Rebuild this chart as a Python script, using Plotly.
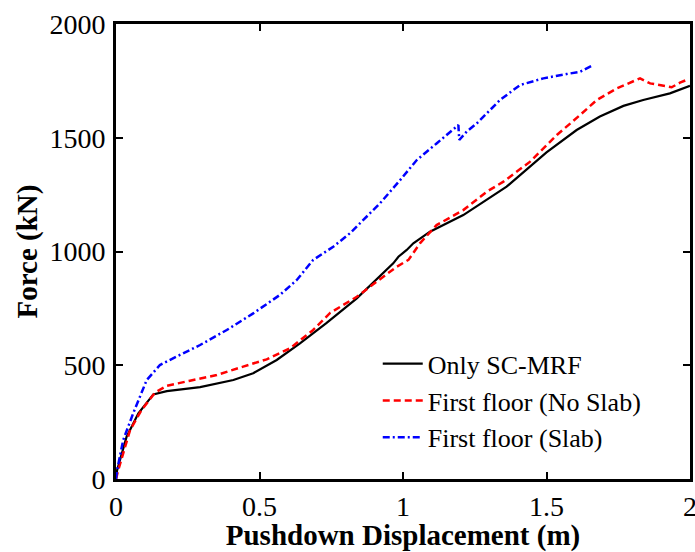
import plotly.graph_objects as go

# Only SC-MRF
x_mrf = [0, 0.004, 0.037, 0.078, 0.13, 0.177, 0.293, 0.386, 0.409, 0.478, 0.56, 0.641, 0.734,
         0.839, 0.966, 0.984, 1.013, 1.036, 1.094, 1.21, 1.361, 1.50, 1.605, 1.686, 1.768,
         1.837, 1.93, 2.0]
y_mrf = [0, 40, 186, 289, 372, 386, 404, 428, 435, 465, 523, 596, 686,
         794, 948, 977, 1007, 1036, 1087, 1160, 1285, 1436, 1534, 1593, 1640,
         1666, 1695, 1728]

# First floor (No Slab)
x_ns = [0, 0.008, 0.049, 0.089, 0.136, 0.177, 0.258, 0.351, 0.443, 0.525, 0.606, 0.687, 0.746,
        0.839, 0.908, 0.978, 1.019, 1.059, 1.117, 1.21, 1.292, 1.35, 1.443, 1.536, 1.617,
        1.675, 1.745, 1.826, 1.861, 1.907, 1.936, 1.965, 1.994]
y_ns = [0, 40, 215, 303, 380, 410, 432, 457, 494, 526, 574, 655, 730,
        801, 867, 933, 963, 1036, 1116, 1182, 1263, 1307, 1395, 1512, 1600,
        1666, 1717, 1761, 1739, 1727, 1722, 1742, 1757]

# First floor (Slab)
x_sl = [0, 0.004, 0.025, 0.06, 0.107, 0.153, 0.211, 0.293, 0.386, 0.478, 0.571, 0.63, 0.687,
        0.757, 0.815, 0.85, 0.92, 0.99, 1.048, 1.117, 1.193, 1.196, 1.222, 1.257, 1.338,
        1.408, 1.489, 1.570, 1.617, 1.66]
y_sl = [0, 40, 171, 289, 435, 501, 538, 589, 655, 728, 809, 875, 963,
        1021, 1080, 1124, 1212, 1314, 1402, 1475, 1556, 1490, 1527, 1563, 1666,
        1732, 1761, 1780, 1790, 1818]

names = ["Only SC-MRF", "First floor (No Slab)", "First floor (Slab)"]
x_ticks = [0, 0.5, 1, 1.5, 2]
x_tick_text = ["0", "0.5", "1", "1.5", "2"]
y_ticks = [0, 500, 1000, 1500, 2000]

font = "Times New Roman"

fig = go.Figure()
fig.add_trace(go.Scatter(x=x_mrf, y=y_mrf, mode="lines", name=names[0],
                         line=dict(color="black", width=2.2)))
fig.add_trace(go.Scatter(x=x_ns, y=y_ns, mode="lines", name=names[1],
                         line=dict(color="#ff0000", width=2.5, dash="7px,4px")))
fig.add_trace(go.Scatter(x=x_sl, y=y_sl, mode="lines", name=names[2],
                         line=dict(color="#0000ff", width=2.5, dash="7px,3px,2px,3px")))

axis_common = dict(showline=True, linecolor="black", linewidth=3, mirror="ticks",
                   ticks="inside", ticklen=7, tickwidth=2, tickcolor="black",
                   showgrid=False, zeroline=False, automargin=False,
                   ticklabeloverflow="allow",
                   tickfont=dict(family=font, size=28, color="black"))

fig.update_layout(
    width=695, height=552,
    margin=dict(l=116, r=5, t=24, b=73),
    paper_bgcolor="white", plot_bgcolor="white",
    xaxis=dict(range=[0, 2], tickvals=x_ticks, ticktext=x_tick_text, ticklabelstandoff=0,
               title=dict(text="<b>Pushdown Displacement (m)</b>", standoff=3,
                          font=dict(family=font, size=29, color="black")),
               **axis_common),
    yaxis=dict(range=[0, 2000], tickvals=y_ticks, ticklabelstandoff=2,
               title=dict(text="<b>Force (kN)</b>", standoff=4,
                          font=dict(family=font, size=29, color="black")),
               **axis_common),
    legend=dict(x=0.456, y=0.305, xanchor="left", yanchor="top",
                bgcolor="rgba(0,0,0,0)", borderwidth=0,
                font=dict(family=font, size=26, color="black"),
                tracegroupgap=0, itemwidth=40),
    showlegend=True,
)

fig.write_html("out.html", config={"displayModeBar": False},
               post_script="document.body.style.margin='0px';document.body.style.overflow='hidden';")
